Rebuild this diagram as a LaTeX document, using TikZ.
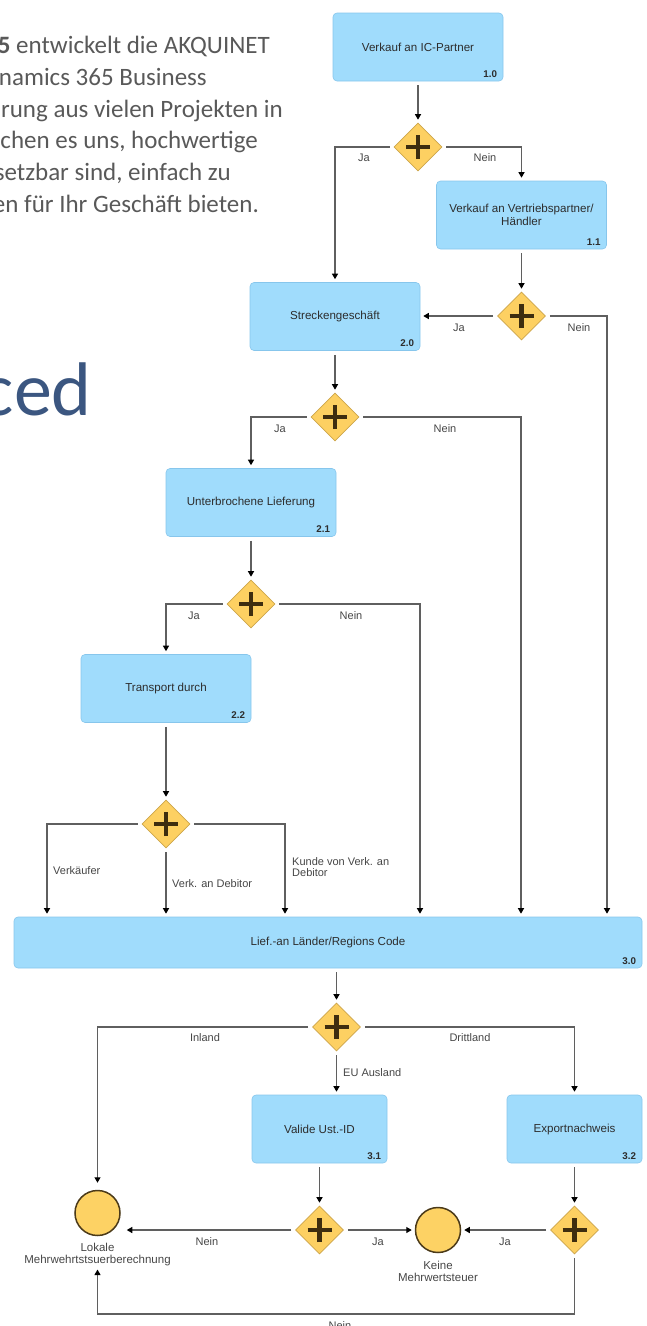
\documentclass[tikz,border=0pt]{standalone}
\usepackage{fontspec}
\setmainfont{Liberation Sans}
\newfontfamily\carl{Carlito}
\usetikzlibrary{shapes.geometric,arrows.meta,calc}
\definecolor{boxblue}{RGB}{160,220,252}
\definecolor{boxborder}{RGB}{135,198,236}
\definecolor{gwfill}{RGB}{253,208,98}
\definecolor{gwdraw}{RGB}{205,165,75}
\definecolor{plusc}{RGB}{62,45,15}
\definecolor{evfill}{RGB}{253,210,100}
\definecolor{evdraw}{RGB}{75,58,25}
\definecolor{linec}{RGB}{95,95,95}
\definecolor{txt}{RGB}{45,45,45}
\definecolor{labc}{RGB}{70,70,70}
\definecolor{ptext}{RGB}{89,89,89}
\definecolor{titleblue}{RGB}{59,86,128}
\begin{document}
\begin{tikzpicture}[x=1pt,y=-1pt,
  box/.style={draw=boxborder, fill=boxblue, rounded corners=4pt, line width=0.6pt, inner sep=0pt,
    font=\fontsize{11.6}{13}\selectfont, text=txt, align=center, minimum width=170pt, minimum height=68pt},
  gw/.style={diamond, draw=gwdraw, fill=gwfill, line width=0.6pt, minimum width=48pt, minimum height=48pt,
    inner sep=0pt, shape aspect=1,
    path picture={
      \draw[plusc, line width=4.5pt] ([xshift=-12pt]path picture bounding box.center) -- ([xshift=12pt]path picture bounding box.center);
      \draw[plusc, line width=4.5pt] ([yshift=-12pt]path picture bounding box.center) -- ([yshift=12pt]path picture bounding box.center);}},
  ev/.style={circle, draw=evdraw, fill=evfill, line width=1.5pt, minimum size=45pt, inner sep=0pt},
  conn/.style={draw=linec, line width=1.2pt, shorten <=4pt},
  arr/.style={conn, -{Triangle[length=5.5pt,width=6pt,color=black]}, shorten >=3pt},
  lab/.style={font=\fontsize{11}{12}\selectfont, text=labc, inner sep=1pt},
  num/.style={font=\bfseries\fontsize{9.8}{10}\selectfont, text=txt, inner sep=0pt, anchor=base east},
  para/.style={font=\carl\fontsize{25}{30}\selectfont, text=ptext, anchor=base east, inner sep=0pt}
]
\useasboundingbox (0,0) rectangle (647,1326);
\clip (0,0) rectangle (647,1326);

% background text
\node[para] (p1) at (270,53) {\textbf{5} entwickelt die AKQUINET};
\node[para] (p2) at (207,85) {namics 365 Business};
\node[para] (p3) at (283,117) {rung aus vielen Projekten in};
\node[para] (p4) at (258,148) {chen es uns, hochwertige};
\node[para] (p5) at (231,180) {setzbar sind, einfach zu};
\node[para] (p6) at (259,212) {en für Ihr Geschäft bieten.};
\node[font=\carl\fontsize{76}{76}\selectfont, text=titleblue, anchor=base east, inner sep=0pt] (title) at (92,415) {ced};

% helper coordinates
\coordinate (x47) at (47,0);
\coordinate (x285) at (285,0);
\coordinate (x420) at (420,0);
\coordinate (x521) at (521,0);
\coordinate (x607) at (607,0);
\coordinate (ybot) at (0,1314);

% boxes
\node[box] (b10) at (418,47) {Verkauf an IC-Partner};
\node[box] (b11) at (521.5,215) {Verkauf an Vertriebspartner/\\Händler};
\node[box] (b20) at (335,316.5) {Streckengeschäft};
\node[box] (b21) at (251,502.5) {Unterbrochene Lieferung};
\node[box] (b22) at (166,688.5) {Transport durch};
\node[box, minimum width=628pt, minimum height=51pt] (b30) at (328,942.5) {Lief.-an Länder/Regions Code};
\node[box, minimum width=135pt] (b31) at (319.5,1129) {Valide Ust.-ID};
\node[box, minimum width=135pt] (b32) at (574.5,1129) {Exportnachweis};

\node[num] (n10) at ([xshift=-6pt,yshift=4pt]b10.south east) {1.0};
\node[num] (n11) at ([xshift=-6pt,yshift=4pt]b11.south east) {1.1};
\node[num] (n20) at ([xshift=-6pt,yshift=4pt]b20.south east) {2.0};
\node[num] (n21) at ([xshift=-6pt,yshift=4pt]b21.south east) {2.1};
\node[num] (n22) at ([xshift=-6pt,yshift=4pt]b22.south east) {2.2};
\node[num] (n30) at ([xshift=-6pt,yshift=4pt]b30.south east) {3.0};
\node[num] (n31) at ([xshift=-6pt,yshift=4pt]b31.south east) {3.1};
\node[num] (n32) at ([xshift=-6pt,yshift=4pt]b32.south east) {3.2};

% gateways
\node[gw] (g1) at (418,147) {};
\node[gw] (g2) at (521.5,316) {};
\node[gw] (g3) at (335,417) {};
\node[gw] (g4) at (251,604) {};
\node[gw] (g5) at (166,824) {};
\node[gw] (g6) at (336.5,1027) {};
\node[gw] (g7) at (319.5,1230) {};
\node[gw] (g8) at (574.5,1230) {};

% events
\node[ev] (cL) at (97.5,1213) {};
\node[ev] (cK) at (438,1230) {};
\node[lab, align=center, inner sep=0pt, font=\fontsize{11.5}{12}\selectfont] (lL) at (97.5,1255) {Lokale\\Mehrwehrtstsuerberechnung};
\node[lab, align=center, inner sep=0pt, font=\fontsize{11.5}{12}\selectfont] (lK) at (438,1271.5) {Keine\\Mehrwertsteuer};

% connectors
\draw[arr] (b10.south) -- (g1.north);
\draw[arr] (g1.west) -| (b20.north);
\draw[arr] (g1.east) -| (b11.north);
\draw[arr] (b11.south) -- (g2.north);
\draw[arr] (g2.west) -- (b20.east |- g2);
\draw[arr] (g2.east) -| (b30.north -| x607);
\draw[arr] (b20.south) -- (g3.north);
\draw[arr] (g3.west) -| (b21.north);
\draw[arr] (g3.east) -| (b30.north -| x521);
\draw[arr] (b21.south) -- (g4.north);
\draw[arr] (g4.west) -| (b22.north);
\draw[arr] (g4.east) -| (b30.north -| x420);
\draw[arr] (b22.south) -- (g5.north);
\draw[arr] (g5.west) -| (b30.north -| x47);
\draw[arr] (g5.south) -- (b30.north -| g5);
\draw[arr] (g5.east) -| (b30.north -| x285);
\draw[arr] (b30.south -| g6) -- (g6.north);
\draw[arr, shorten >=7pt] (g6.west) -| (cL.north);
\draw[arr] (g6.south) -- (b31.north -| g6);
\draw[arr] (g6.east) -| (b32.north);
\draw[arr] (b31.south) -- (g7.north);
\draw[arr] (b32.south) -- (g8.north);
\draw[arr, shorten >=6pt] (g7.west) -- (cL.east |- g7);
\draw[arr] (g7.east) -- (cK.west);
\draw[arr] (g8.west) -- (cK.east);
\draw[arr] (g8.south) |- (ybot -| cL) -- (lL.south);

% labels
\node[lab] (t1) at (364,158) {Ja};
\node[lab] (t2) at (485,158) {Nein};
\node[lab] (t3) at (459,328) {Ja};
\node[lab] (t4) at (579,328) {Nein};
\node[lab] (t5) at (280,429) {Ja};
\node[lab] (t6) at (445,429) {Nein};
\node[lab] (t7) at (194,616) {Ja};
\node[lab] (t8) at (351,616) {Nein};
\node[lab, anchor=west] (t9) at (52,871) {Verkäufer};
\node[lab, anchor=west] (t10) at (171,884) {Verk. an Debitor};
\node[lab, anchor=west, align=left, font=\fontsize{11}{11}\selectfont] (t11) at (291,867) {Kunde von Verk. an\\Debitor};
\node[lab] (t12) at (205,1038) {Inland};
\node[lab] (t13) at (470,1038) {Drittland};
\node[lab, anchor=west] (t14) at (342,1073) {EU Ausland};
\node[lab] (t15) at (207,1242) {Nein};
\node[lab] (t16) at (378,1242) {Ja};
\node[lab] (t17) at (505,1242) {Ja};
\node[lab] (t18) at (340,1326) {Nein};
\end{tikzpicture}
\end{document}
